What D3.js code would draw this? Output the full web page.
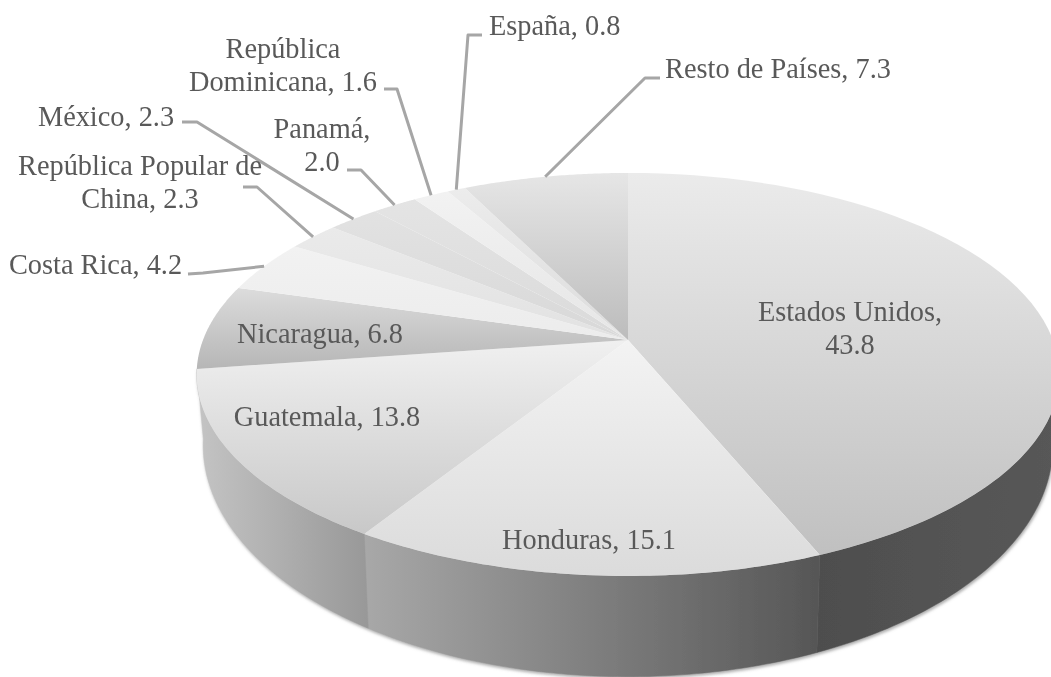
<!DOCTYPE html>
<html>
<head>
<meta charset="utf-8">
<script src="https://cdn.jsdelivr.net/npm/d3@7/dist/d3.min.js"></script>
<style>
    html, body { margin: 0; padding: 0; background: #fff; overflow: hidden; }
    svg { display: block; filter: blur(0.35px); }
    text { font-family: "Liberation Serif", serif; font-size: 30px; fill: #595959; }
</style>
</head>
<body>
<svg></svg>
<script>
// data
var categories = ["Estados Unidos", "Honduras", "Guatemala", "Nicaragua", "Costa Rica",
    "República Popular de China", "México", "Panamá", "República Dominicana", "España", "Resto de Países"];
var values = [43.8, 15.1, 13.8, 6.8, 4.2, 2.3, 2.3, 2.0, 1.6, 0.8, 7.3];

// styles, same order as the categories: [top of slice, bottom of slice]
var topColors = [
    ["#ebebeb", "#c0c0c0"], ["#f3f3f3", "#dbdbdb"], ["#f0f0f0", "#c8c8c8"], ["#dcdcdc", "#b6b6b6"],
    ["#f2f2f2", "#ececec"], ["#eaeaea", "#e2e2e2"], ["#e2e2e2", "#d8d8d8"], ["#e4e4e4", "#dadada"],
    ["#f2f2f2", "#e6e6e6"], ["#ececec", "#dcdcdc"], ["#e6e6e6", "#bcbcbc"]
];
// left to right
var sideColors = [["#4e4e4e", "#585858"], ["#a8a8a8", "#565656"], ["#c4c4c4", "#989898"]];

// label layout: x, y of first baseline, anchor, words on the first line (0 = one line),
// and the elbow of the leader line [end near text, bend]
var labelLayout = [
    { x: 850, y: 321, anchor: "middle", split: 2 },
    { x: 589, y: 549, anchor: "middle", split: 0 },
    { x: 327, y: 426, anchor: "middle", split: 0 },
    { x: 320, y: 343, anchor: "middle", split: 0 },
    { x: 95.5, y: 274, anchor: "middle", split: 0, leader: [[188, 274], [203, 273]] },
    { x: 140, y: 175, anchor: "middle", split: 3, leader: [[243, 187], [257, 187]] },
    { x: 106, y: 126, anchor: "middle", split: 0, leader: [[182, 122], [197, 122]] },
    { x: 322, y: 138, anchor: "middle", split: 1, leader: [[347, 170], [361, 170]] },
    { x: 283, y: 58, anchor: "middle", split: 1, leader: [[384, 89], [397, 89]] },
    { x: 489, y: 35, anchor: "start", split: 0, leader: [[482, 35], [468, 35]] },
    { x: 665, y: 78, anchor: "start", split: 0, leader: [[660, 78], [645, 78]] }
];

var svgWidth = 1051, svgHeight = 677;
var cx = 628, cy = 340;      // apex of the pie on screen
var rx = 425, ry = 195.6, k = 0.171;   // perspective of the top face
var frontFrom = 100 * Math.PI / 180, frontTo = 262 * Math.PI / 180;
var textSqueeze = 0.945;     // the original text is a bit condensed

// angle clockwise from 12 o'clock -> point on the top rim
function project(a, r) {
    var X = Math.sin(a) * r, Y = -Math.cos(a) * r;
    var w = 1 - k * Y;
    return [cx + rx * X / w, cy + ry * Y / w];
}

// same rim on the bottom of the cake
function projectBottom(a) {
    var p = project(a, 1);
    return [cx + (p[0] - cx) * 0.985, 445 + (p[1] - 374.5) * 1.15];
}

function arcAngles(a0, a1) {
    return d3.range(0, 61).map(function (i) {
        return a0 + (a1 - a0) * i / 60;
    });
}

var svg = d3.select("svg")
    .attr("width", svgWidth)
    .attr("height", svgHeight);

var pie = d3.pie().sort(null).value(function (d) { return d; });
var slices = pie(values);
var line = d3.line();

var defs = svg.append("defs");

defs.append("filter")
    .attr("id", "shadow")
    .attr("x", "-5%").attr("y", "-5%")
    .attr("width", "110%").attr("height", "110%")
    .append("feDropShadow")
    .attr("dx", 1).attr("dy", 2)
    .attr("stdDeviation", 1.5)
    .attr("flood-color", "#777")
    .attr("flood-opacity", 0.6);

topColors.forEach(function (c, i) {
    var g = defs.append("linearGradient")
        .attr("id", "top" + i)
        .attr("x1", 0).attr("y1", 0).attr("x2", 0).attr("y2", 1);
    g.append("stop").attr("offset", 0).attr("stop-color", c[0]);
    g.append("stop").attr("offset", 1).attr("stop-color", c[1]);
});

sideColors.forEach(function (c, i) {
    var g = defs.append("linearGradient")
        .attr("id", "side" + i)
        .attr("x1", 0).attr("y1", 0).attr("x2", 1).attr("y2", 0);
    g.append("stop").attr("offset", 0).attr("stop-color", c[0]);
    g.append("stop").attr("offset", 1).attr("stop-color", c[1]);
});

// sides first, only the slices facing the viewer
var sides = svg.append("g").attr("filter", "url(#shadow)");
slices.forEach(function (d, i) {
    var a0 = Math.max(d.startAngle, frontFrom), a1 = Math.min(d.endAngle, frontTo);
    if (a0 >= a1) return;
    var angles = arcAngles(a0, a1);
    var pts = angles.map(function (a) { return project(a, 1); })
        .concat(angles.slice().reverse().map(projectBottom));
    sides.append("path")
        .attr("d", line(pts) + "Z")
        .attr("fill", "url(#side" + i + ")")
        .attr("stroke", "url(#side" + i + ")")
        .attr("stroke-width", 0.5);
});

// top face
svg.append("g")
    .selectAll("path")
    .data(slices)
    .enter()
    .append("path")
    .attr("d", function (d) {
        var pts = [[cx, cy]].concat(arcAngles(d.startAngle, d.endAngle).map(function (a) {
            return project(a, 1);
        }));
        return line(pts) + "Z";
    })
    .attr("fill", function (d, i) { return "url(#top" + i + ")"; });

// leader lines go from the middle of the slice rim to the elbow
svg.append("g")
    .selectAll("path")
    .data(slices.filter(function (d, i) { return labelLayout[i].leader; }))
    .enter()
    .append("path")
    .attr("d", function (d) {
        var leader = labelLayout[d.index].leader;
        return line(leader.concat([project((d.startAngle + d.endAngle) / 2, 1)]));
    })
    .attr("fill", "none")
    .attr("stroke", "#a6a6a6")
    .attr("stroke-width", 3)
    .attr("stroke-linejoin", "round");

// labels
var labels = svg.append("g")
    .selectAll("text")
    .data(categories)
    .enter()
    .append("text")
    .attr("text-anchor", function (d, i) { return labelLayout[i].anchor; })
    .attr("transform", function (d, i) {
        return "translate(" + labelLayout[i].x + "," + labelLayout[i].y + ") scale(" + textSqueeze + ",1)";
    });

labels.each(function (d, i) {
    var layout = labelLayout[i];
    var words = (d + ", " + values[i].toFixed(1)).split(" ");
    var lines = layout.split ? [words.slice(0, layout.split).join(" "), words.slice(layout.split).join(" ")] : [words.join(" ")];
    d3.select(this).selectAll("tspan")
        .data(lines)
        .enter()
        .append("tspan")
        .attr("x", 0)
        .attr("dy", function (l, j) { return j ? 33 : 0; })
        .text(function (l) { return l; });
});
</script>
</body>
</html>
